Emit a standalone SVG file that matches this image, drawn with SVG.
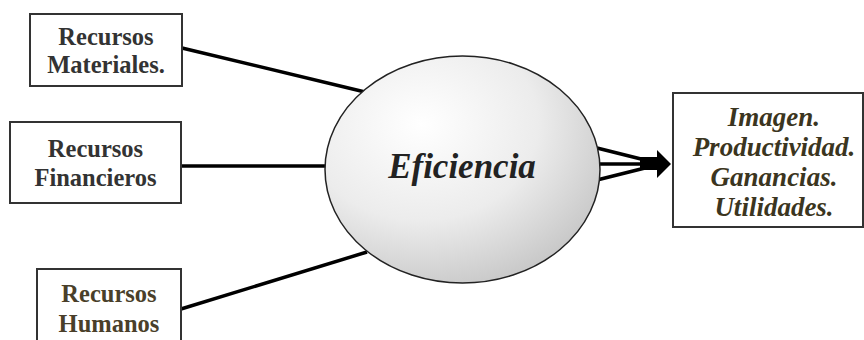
<svg xmlns="http://www.w3.org/2000/svg" width="864" height="340" viewBox="0 0 864 340">
<defs>
<radialGradient id="g" cx="0.35" cy="0.3" r="0.85">
<stop offset="0" stop-color="#ffffff"/>
<stop offset="0.5" stop-color="#ececec"/>
<stop offset="1" stop-color="#bdbdbd"/>
</radialGradient>
<style>
.box{fill:#fff;stroke:#333;stroke-width:2}
.lbl{font-family:"Liberation Serif","Times New Roman",serif;font-weight:bold;text-anchor:middle;font-size:24.5px;fill:#333}
.hum{fill:#4a3f2a}
.out{font-family:"Liberation Serif","Times New Roman",serif;font-weight:bold;font-style:italic;text-anchor:middle;font-size:27px;fill:#3b3520}
.ln{stroke:#000;stroke-width:3.5;fill:none}
</style>
</defs>
<g id="connectors">
<line class="ln" x1="182" y1="48" x2="365" y2="92"/>
<line class="ln" x1="181" y1="166" x2="327" y2="166"/>
<line class="ln" x1="181" y1="309" x2="367" y2="252"/>
<line class="ln" x1="597" y1="148" x2="645" y2="160"/>
<line class="ln" x1="598" y1="164" x2="645" y2="164"/>
<line class="ln" x1="597" y1="180" x2="645" y2="168"/>
<rect x="640" y="157" width="20" height="13" fill="#000"/>
<polygon points="657,150 671,164 657,178" fill="#000"/>
</g>
<g id="n-materiales">
<rect class="box" x="30" y="14" width="152" height="72"/>
<text class="lbl" x="106" y="45">Recursos</text>
<text class="lbl" x="106" y="73">Materiales.</text>
</g>
<g id="n-financieros">
<rect class="box" x="10" y="122" width="171" height="81"/>
<text class="lbl" x="95.5" y="157">Recursos</text>
<text class="lbl" x="95.5" y="186">Financieros</text>
</g>
<g id="n-humanos">
<rect class="box" x="37" y="269" width="144" height="80"/>
<text class="lbl hum" x="109" y="302">Recursos</text>
<text class="lbl hum" x="109" y="332">Humanos</text>
</g>
<g id="n-eficiencia">
<ellipse cx="462.5" cy="169.5" rx="137.5" ry="113.5" fill="url(#g)" stroke="#222" stroke-width="1.5"/>
<text x="462" y="178" text-anchor="middle" font-family="'Liberation Serif','Times New Roman',serif" font-weight="bold" font-style="italic" font-size="35" fill="#222">Eficiencia</text>
</g>
<g id="n-resultados">
<rect class="box" x="673" y="93" width="190" height="134"/>
<text class="out" x="774" y="126">Imagen.</text>
<text class="out" x="774" y="156">Productividad.</text>
<text class="out" x="774" y="186">Ganancias.</text>
<text class="out" x="774" y="216">Utilidades.</text>
</g>
</svg>
